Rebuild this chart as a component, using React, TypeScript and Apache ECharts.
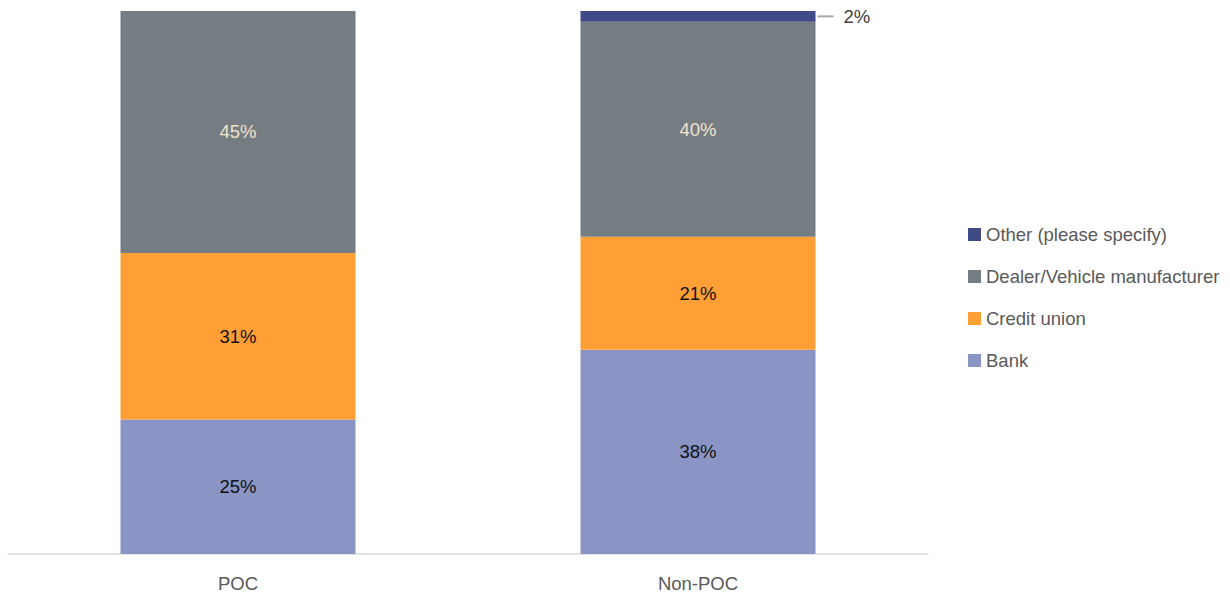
import React, { useEffect, useRef } from "react";
import * as echarts from "echarts";

const categories = ["POC", "Non-POC"];
const bank = [25, 38];
const creditUnion = [31, 21];
const dealer = [45, 40];
const other: (number | null)[] = [null, 2];
const legendOrder = ["Other (please specify)", "Dealer/Vehicle manufacturer", "Credit union", "Bank"];

const FONT = "'Liberation Sans', Arial, sans-serif";
const FS = 18.5;

export default function App() {
  const ref = useRef<HTMLDivElement>(null);
  useEffect(() => {
    if (!ref.current) return;
    const chart = echarts.init(ref.current, null, { renderer: "svg" });
    const innerLabel = (color: string) => ({
      show: true,
      position: "inside" as const,
      color,
      fontSize: FS,
      fontFamily: FONT,
      formatter: (p: any) => `${p.value}%`,
    });
    chart.setOption({
      animation: false,
      backgroundColor: "#ffffff",
      textStyle: { fontFamily: FONT },
      grid: { left: 8, right: 302, top: 11, bottom: 44, containLabel: false },
      legend: {
        orient: "vertical",
        left: 968,
        top: 225,
        padding: 0,
        itemWidth: 13,
        itemHeight: 13,
        itemGap: 23,
        icon: "rect",
        data: legendOrder,
        textStyle: { color: "#595959", fontSize: FS, fontFamily: FONT },
      },
      xAxis: {
        type: "category",
        data: categories,
        axisLine: { show: true, lineStyle: { color: "#D9D9D9", width: 1.5 } },
        axisTick: { show: false },
        axisLabel: { color: "#595959", fontSize: FS, fontFamily: FONT, margin: 20 },
      },
      yAxis: {
        type: "value",
        min: 0,
        max: 101,
        show: false,
        splitLine: { show: false },
      },
      series: [
        {
          name: "Bank",
          type: "bar",
          stack: "total",
          barWidth: 235,
          data: bank,
          itemStyle: { color: "#8A95C5" },
          label: innerLabel("#111111"),
        },
        {
          name: "Credit union",
          type: "bar",
          stack: "total",
          barWidth: 235,
          data: creditUnion,
          itemStyle: { color: "#FF9F36" },
          label: innerLabel("#111111"),
        },
        {
          name: "Dealer/Vehicle manufacturer",
          type: "bar",
          stack: "total",
          barWidth: 235,
          data: dealer,
          itemStyle: { color: "#767D82" },
          label: innerLabel("#F0E3CE"),
        },
        {
          name: "Other (please specify)",
          type: "bar",
          stack: "total",
          barWidth: 235,
          data: other,
          itemStyle: { color: "#3F4A87" },
          label: {
            show: true,
            position: "right",
            distance: 2,
            formatter: (p: any) => (p.value == null ? "" : `{l|}{t|${p.value}%}`),
            rich: {
              l: { width: 16, height: 2, backgroundColor: "#A6A6A6" },
              t: { fontSize: FS, color: "#404040", fontFamily: FONT, padding: [0, 0, 0, 10] },
            },
          },
        },
      ],
    });
    return () => chart.dispose();
  }, []);
  return (
    <div
      ref={ref}
      style={{ position: "absolute", left: 0, top: 0, width: 1230, height: 598 }}
    />
  );
}
